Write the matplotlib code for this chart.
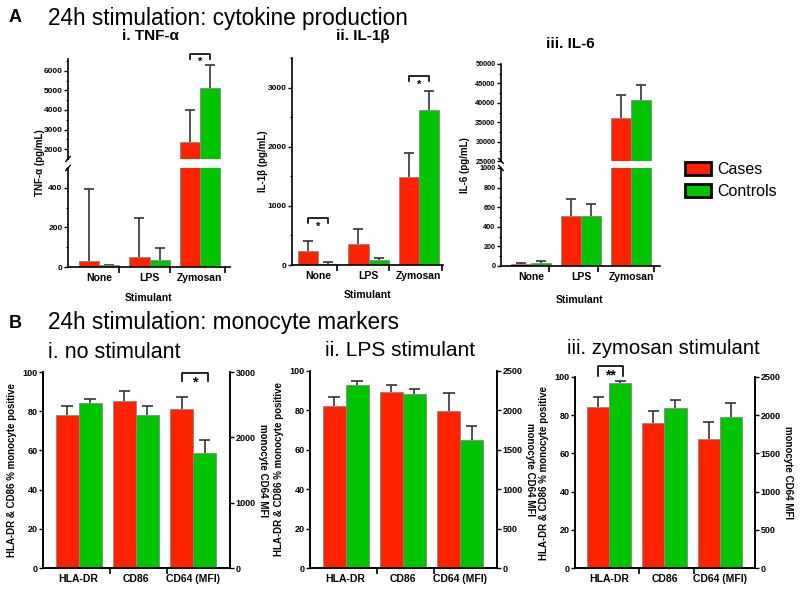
import matplotlib.pyplot as plt
import numpy as np
from matplotlib.patches import Patch
from matplotlib.ticker import MultipleLocator

plt.rcParams['font.family'] = ['Liberation Sans', 'DejaVu Sans']

# ---- data -------------------------------------------------------------
stimulants = ['None', 'LPS', 'Zymosan']

tnf_cases = [30, 50, 2350]
tnf_cases_err = [365, 195, 1650]
tnf_ctrl = [8, 35, 5100]
tnf_ctrl_err = [2, 60, 1200]

il1_cases = [230, 350, 1480]
il1_cases_err = [170, 260, 420]
il1_ctrl = [25, 85, 2620]
il1_ctrl_err = [25, 35, 330]

il6_cases = [25, 510, 36200]
il6_cases_err = [10, 170, 5800]
il6_ctrl = [35, 510, 40700]
il6_ctrl_err = [15, 125, 3800]

markers = ['HLA-DR', 'CD86', 'CD64 (MFI)']
# HLA-DR and CD86 in % positive, CD64 in MFI
nostim_cases = [78, 85, 2430]
nostim_cases_err = [4.5, 5.5, 195]
nostim_ctrl = [84, 78, 1765]
nostim_ctrl_err = [2.3, 4.7, 200]

lps_cases = [82.3, 89.4, 1995]
lps_cases_err = [4.5, 3.3, 225]
lps_ctrl = [93.1, 88.5, 1625]
lps_ctrl_err = [1.7, 2.5, 175]

zym_cases = [84.2, 76, 1685]
zym_cases_err = [5.5, 6.3, 230]
zym_ctrl = [97, 83.8, 1980]
zym_ctrl_err = [1.1, 3.9, 180]

red = '#ff2200'
green = '#00c400'
W, H = 800, 600


def px(x0, y0, x1, y1):
    return [x0 / W, 1 - y1 / H, (x1 - x0) / W, (y1 - y0) / H]


def upper_err(ax, x, y, err, cap=0.1):
    # Prism style: stem from the bar top up, cap only at the top
    x = np.asarray(x, dtype=float)
    top = np.asarray(y, dtype=float) + np.asarray(err, dtype=float)
    ax.vlines(x, y, top, color='#333333', lw=1.2, zorder=1)
    ax.hlines(top, x - cap, x + cap, color='#333333', lw=1.2, zorder=1)


def bars(ax, x, cases, cerr, ctrl, terr, w=0.4):
    x = np.asarray(x, dtype=float)
    ax.bar(x - w / 2, cases, w, color=red, edgecolor='#888888', linewidth=0.6, zorder=2)
    ax.bar(x + w / 2, ctrl, w, color=green, edgecolor='#888888', linewidth=0.6, zorder=2)
    upper_err(ax, x - w / 2, cases, cerr)
    upper_err(ax, x + w / 2, ctrl, terr)


def style(ax, right=False, size=6):
    ax.spines['top'].set_visible(False)
    if not right:
        ax.spines['right'].set_visible(False)
    for s in ax.spines.values():
        s.set_linewidth(1.2)
    ax.tick_params(axis='y', which='major', length=3, width=1, labelsize=size, pad=1)
    ax.tick_params(axis='y', which='minor', length=1.8, width=0.8)
    for t in ax.get_yticklabels():
        t.set_fontweight('bold')


def xaxis(ax, labels, seps, size):
    ax.set_xticks(range(len(labels)))
    ax.set_xticklabels(labels, fontsize=size, fontweight='bold')
    ax.tick_params(axis='x', which='major', length=0, pad=4)
    ax.set_xticks(seps, minor=True)
    ax.tick_params(axis='x', which='minor', length=4, width=1.2, direction='out')


def bracket(ax, x0, x1, ytop, yleg, star, ystar, size=9):
    ax.plot([x0, x0, x1, x1], [yleg, ytop, ytop, yleg], color='black', lw=1.2, clip_on=False)
    ax.text((x0 + x1) / 2, ystar, star, ha='center', va='center', fontsize=size,
            fontweight='bold', clip_on=False)


def breakmark(ax, y, d=0.014, sign=1):
    ax.plot([-d, d], [y - sign * d * 1.8, y + sign * d * 1.8], transform=ax.transAxes,
            color='black', lw=1.0, clip_on=False)


fig = plt.figure(figsize=(8, 6), dpi=100)
xs = np.arange(3)

# ---- A i: TNF-a (broken axis) -----------------------------------------
ax_up = fig.add_axes(px(68, 59, 230, 159))
ax_lo = fig.add_axes(px(68, 168, 230, 267))
for ax in (ax_up, ax_lo):
    bars(ax, xs, tnf_cases, tnf_cases_err, tnf_ctrl, tnf_ctrl_err)
    ax.set_xlim(-0.62, 2.6)
ax_up.set_ylim(1500, 6600)
ax_up.set_yticks([2000, 3000, 4000, 5000, 6000])
ax_up.yaxis.set_minor_locator(MultipleLocator(500))
ax_lo.set_ylim(0, 500)
ax_lo.set_yticks([0, 200, 400])
ax_lo.yaxis.set_minor_locator(MultipleLocator(100))
style(ax_up)
style(ax_lo)
ax_up.spines['bottom'].set_visible(False)
ax_up.tick_params(axis='x', which='both', bottom=False, labelbottom=False)
xaxis(ax_lo, stimulants, [0.4, 1.4, 2.5], 7.5)
breakmark(ax_up, 0.0)
breakmark(ax_lo, 1.0)
bracket(ax_up, 1.8, 2.2, 6880, 6600, '*', 6480, 8)

# ---- A ii: IL-1b --------------------------------------------------------
ax2 = fig.add_axes(px(292, 58, 443, 265))
bars(ax2, xs, il1_cases, il1_cases_err, il1_ctrl, il1_ctrl_err)
ax2.set_xlim(-0.52, 2.48)
ax2.set_ylim(0, 3500)
ax2.set_yticks([0, 1000, 2000, 3000])
ax2.yaxis.set_minor_locator(MultipleLocator(500))
style(ax2)
xaxis(ax2, stimulants, [0.37, 1.4, 2.47], 7.5)
bracket(ax2, -0.2, 0.2, 800, 710, '*', 650, 8)
bracket(ax2, 1.8, 2.2, 3200, 3110, '*', 3050, 8)

# ---- A iii: IL-6 (broken axis) ------------------------------------------
ax3_up = fig.add_axes(px(501, 64, 660, 161))
ax3_lo = fig.add_axes(px(501, 168, 660, 266))
for ax in (ax3_up, ax3_lo):
    bars(ax, xs, il6_cases, il6_cases_err, il6_ctrl, il6_ctrl_err)
    ax.set_xlim(-0.6, 2.58)
ax3_up.set_ylim(25000, 50000)
ax3_up.set_yticks(np.arange(25000, 50001, 5000))
ax3_up.yaxis.set_minor_locator(MultipleLocator(2500))
ax3_lo.set_ylim(0, 1000)
ax3_lo.set_yticks(np.arange(0, 1001, 200))
ax3_lo.yaxis.set_minor_locator(MultipleLocator(100))
style(ax3_up, size=5.2)
style(ax3_lo, size=5.2)
ax3_up.spines['bottom'].set_visible(False)
ax3_up.tick_params(axis='x', which='both', bottom=False, labelbottom=False)
xaxis(ax3_lo, stimulants, [0.36, 1.34, 2.45], 7.5)
breakmark(ax3_up, 0.0, sign=-1)
breakmark(ax3_lo, 1.0, sign=-1)

# ---- B panels -----------------------------------------------------------
b_specs = [
    ((43, 372, 230, 568), 3000, nostim_cases, nostim_cases_err, nostim_ctrl, nostim_ctrl_err),
    ((310, 371, 497, 568), 2500, lps_cases, lps_cases_err, lps_ctrl, lps_ctrl_err),
    ((575, 377, 755, 568), 2500, zym_cases, zym_cases_err, zym_ctrl, zym_ctrl_err),
]
b_axes = []
for box, rmax, cs, ce, ct, te in b_specs:
    ax = fig.add_axes(px(*box))
    axr = ax.twinx()
    bars(ax, xs[:2], cs[:2], ce[:2], ct[:2], te[:2])
    bars(axr, xs[2:], cs[2:], ce[2:], ct[2:], te[2:])
    ax.set_xlim(-0.62, 2.64)
    ax.set_ylim(0, 100)
    ax.set_yticks(np.arange(0, 101, 20))
    axr.set_ylim(0, rmax)
    axr.set_yticks(np.arange(0, rmax + 1, 1000 if rmax == 3000 else 500))
    style(ax, right=True, size=6.5)
    style(axr, right=True, size=6.5)
    xaxis(ax, markers, [0.54, 1.54], 7.5)
    ax.set_ylabel('HLA-DR & CD86 % monocyte positive', fontsize=7, fontweight='bold', labelpad=4)
    axr.set_ylabel('monocyte CD64 MFI', fontsize=7, fontweight='bold', rotation=270, labelpad=9)
    b_axes.append((ax, axr))

bracket(b_axes[0][0], 1.8, 2.25, 99.5, 95.5, '*', 94.5, 10)
bracket(b_axes[2][0], -0.2, 0.25, 105.8, 100.5, '**', 100.8, 10)


# ---- labels and titles --------------------------------------------------
def ftext(x, y, s, **kw):
    fig.text(x / W, 1 - y / H, s, **kw)


ftext(15, 18, 'A', fontsize=13, fontweight='bold', ha='center', va='center')
ftext(48, 18, '24h stimulation: cytokine production', fontsize=16.3, va='center')
ftext(150, 36, 'i. TNF-α', fontsize=11, fontweight='bold', ha='center', va='center')
ftext(363, 36, 'ii. IL-1β', fontsize=11, fontweight='bold', ha='center', va='center')
ftext(570, 44, 'iii. IL-6', fontsize=11, fontweight='bold', ha='center', va='center')

ftext(40, 163, 'TNF-α (pg/mL)', fontsize=7, fontweight='bold', rotation=90, ha='center', va='center')
ftext(263, 161, 'IL-1β (pg/mL)', fontsize=7, fontweight='bold', rotation=90, ha='center', va='center')
ftext(465, 165, 'IL-6 (pg/mL)', fontsize=7, fontweight='bold', rotation=90, ha='center', va='center')

ftext(149, 298, 'Stimulant', fontsize=7.5, fontweight='bold', ha='center', va='center')
ftext(368, 295, 'Stimulant', fontsize=7.5, fontweight='bold', ha='center', va='center')
ftext(580, 300, 'Stimulant', fontsize=7.5, fontweight='bold', ha='center', va='center')

ftext(15, 323, 'B', fontsize=13, fontweight='bold', ha='center', va='center')
ftext(48, 323, '24h stimulation: monocyte markers', fontsize=16.3, va='center')
ftext(48, 352, 'i. no stimulant', fontsize=15.5, va='center')
ftext(325, 351, 'ii. LPS stimulant', fontsize=15, va='center')
ftext(567, 349, 'iii. zymosan stimulant', fontsize=14.6, va='center')

handles = [Patch(facecolor=red, edgecolor='black', linewidth=2),
           Patch(facecolor=green, edgecolor='black', linewidth=2)]
fig.legend(handles, ['Cases', 'Controls'], loc='upper left',
           bbox_to_anchor=(685 / W, 1 - 162 / H), borderaxespad=0, borderpad=0,
           frameon=False, handlelength=1.6, handleheight=0.85, handletextpad=0.45,
           labelspacing=0.45, prop={'size': 11.5})

fig.savefig('out.png', dpi=100)
